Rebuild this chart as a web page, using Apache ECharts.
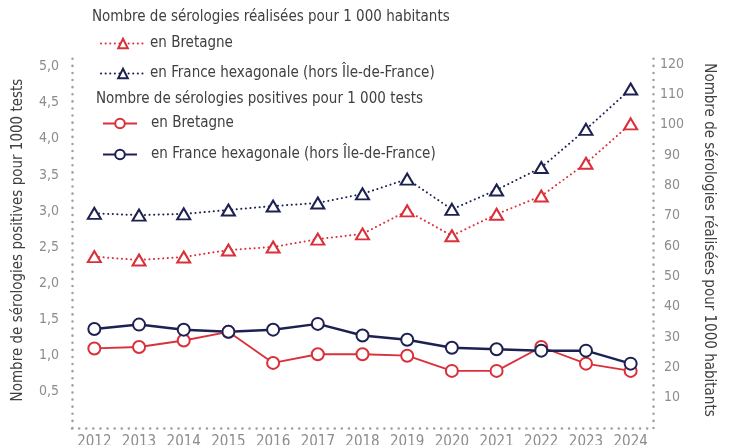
<!DOCTYPE html>
<html>
<head>
<meta charset="utf-8" />
<script src="https://cdn.jsdelivr.net/npm/echarts@6/dist/echarts.min.js"></script>
<style>
html, body { margin: 0; padding: 0; background: #fff; }
#main { width: 729px; height: 445px; }
</style>
</head>
<body>
<div id="main"></div>
<script type="text/javascript">
// annees
var years = ['2012', '2013', '2014', '2015', '2016', '2017', '2018', '2019', '2020', '2021', '2022', '2023', '2024'];

// serologies positives pour 1000 tests (axe gauche)
var posBretagne = [1.10, 1.12, 1.21, 1.33, 0.90, 1.02, 1.02, 1.00, 0.79, 0.79, 1.12, 0.89, 0.79];
var posFrance = [1.37, 1.43, 1.36, 1.33, 1.36, 1.44, 1.28, 1.22, 1.11, 1.09, 1.07, 1.07, 0.89];

// serologies realisees pour 1000 habitants (axe droit)
var realBretagne = [56.5, 55.4, 56.4, 58.7, 59.7, 62.3, 64.0, 71.6, 63.4, 70.5, 76.5, 87.3, 100.3];
var realFrance = [70.8, 70.2, 70.6, 71.9, 73.2, 74.2, 77.2, 82.1, 72.1, 78.5, 85.9, 98.5, 111.8];

var RED = '#d9303a';
var NAVY = '#1c2152';
var FONT = '"DejaVu Sans Condensed", "Liberation Sans Narrow", sans-serif';

var chart = echarts.init(document.getElementById('main'));

// axes en pointilles gris
var axisDots = { show: true, lineStyle: { color: '#a0a0a0', width: 2.5, type: [0.1, 7], cap: 'round' } };

function legendItem(name, label, left, top, w, pad) {
    return {
        data: [name],
        left: left,
        top: top,
        padding: 0,
        itemWidth: w,
        itemHeight: 12,
        selectedMode: false,
        formatter: function () { return label; },
        textStyle: { fontFamily: FONT, fontSize: 15, color: '#404040', padding: [0, 0, 0, pad] }
    };
}

var option = {
    animation: false,
    textStyle: { fontFamily: FONT },
    grid: { left: 72, right: 76, top: 52, bottom: 17, outerBoundsMode: 'none', containLabel: false },
    graphic: [
        { type: 'text', left: 92, top: 10, style: { text: 'Nombre de sérologies réalisées pour 1 000 habitants', font: '15px ' + FONT, fill: '#404040' } },
        { type: 'text', left: 96, top: 92, style: { text: 'Nombre de sérologies positives pour 1 000 tests', font: '15px ' + FONT, fill: '#404040' } }
    ],
    legend: [
        legendItem('réal. Bretagne', 'en Bretagne', 100, 36, 44, 0),
        legendItem('réal. France', 'en France hexagonale (hors Île-de-France)', 100, 66, 44, 0),
        legendItem('pos. Bretagne', 'en Bretagne', 102, 116, 34, 9),
        legendItem('pos. France', 'en France hexagonale (hors Île-de-France)', 102, 147, 34, 9)
    ],
    xAxis: {
        type: 'category',
        data: years,
        boundaryGap: true,
        axisLine: axisDots,
        axisTick: { show: false },
        axisLabel: { color: '#8c8c8c', fontSize: 15, margin: 7, interval: 0, fontFamily: FONT }
    },
    yAxis: [
        {
            type: 'value',
            min: 0,
            max: 5.2,
            interval: 0.5,
            name: 'Nombre de sérologies positives pour 1000 tests',
            nameLocation: 'middle',
            nameGap: 46,
            nameTextStyle: { color: '#404040', fontSize: 15, fontFamily: FONT },
            axisLine: axisDots,
            axisTick: { show: false },
            splitLine: { show: false },
            axisLabel: {
                color: '#8c8c8c', fontSize: 14, margin: 13, fontFamily: FONT,
                showMinLabel: false, showMaxLabel: false,
                formatter: function (v) { return v.toFixed(1).replace('.', ','); }
            }
        },
        {
            type: 'value',
            min: 0,
            max: 124,
            interval: 10,
            position: 'right',
            name: 'Nombre de sérologies réalisées pour 1000 habitants',
            nameLocation: 'middle',
            nameGap: 48,
            nameRotate: -90,
            nameTextStyle: { color: '#404040', fontSize: 15, fontFamily: FONT },
            axisLine: axisDots,
            axisTick: { show: false },
            splitLine: { show: false },
            axisLabel: {
                color: '#8c8c8c', fontSize: 14, margin: 19, align: 'center', fontFamily: FONT,
                showMinLabel: false, showMaxLabel: false
            }
        }
    ],
    series: [
        {
            name: 'réal. Bretagne', type: 'line', yAxisIndex: 1, data: realBretagne,
            symbol: 'triangle', symbolSize: [13, 11],
            lineStyle: { color: RED, width: 2, type: [0.1, 4.5], cap: 'round' },
            itemStyle: { color: '#fff', borderColor: RED, borderWidth: 2 }
        },
        {
            name: 'réal. France', type: 'line', yAxisIndex: 1, data: realFrance,
            symbol: 'triangle', symbolSize: [13, 11],
            lineStyle: { color: NAVY, width: 2, type: [0.1, 4.5], cap: 'round' },
            itemStyle: { color: '#fff', borderColor: NAVY, borderWidth: 2 }
        },
        {
            name: 'pos. Bretagne', type: 'line', yAxisIndex: 0, data: posBretagne,
            symbol: 'circle', symbolSize: 12,
            lineStyle: { color: RED, width: 1.8 },
            itemStyle: { color: '#fff', borderColor: RED, borderWidth: 2 }
        },
        {
            name: 'pos. France', type: 'line', yAxisIndex: 0, data: posFrance,
            symbol: 'circle', symbolSize: 12,
            lineStyle: { color: NAVY, width: 2.5 },
            itemStyle: { color: '#fff', borderColor: NAVY, borderWidth: 2 }
        }
    ]
};

chart.setOption(option);
</script>
</body>
</html>
